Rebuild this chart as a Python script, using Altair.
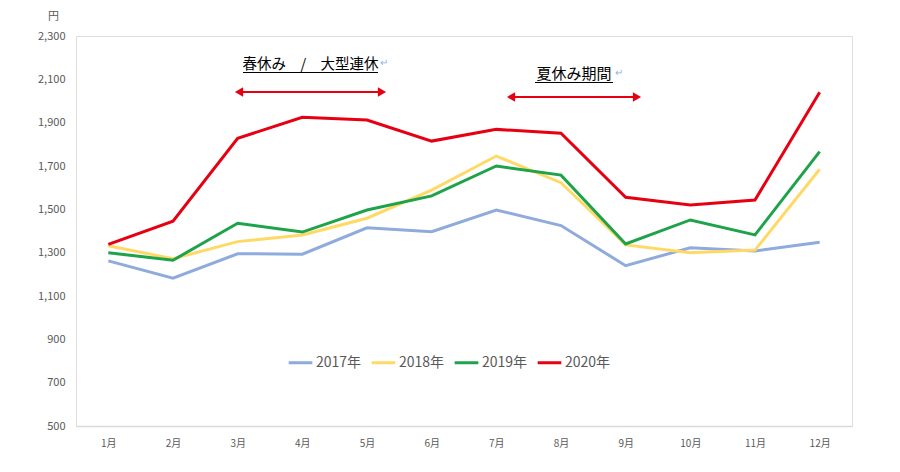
import altair as alt
import pandas as pd

months = ["1月", "2月", "3月", "4月", "5月", "6月", "7月", "8月", "9月", "10月", "11月", "12月"]
years = ["2017年", "2018年", "2019年", "2020年"]
colors = ["#8FAADC", "#FFD966", "#1FA34A", "#E60012"]

v2017 = [1262, 1182, 1295, 1293, 1415, 1397, 1497, 1425, 1240, 1323, 1308, 1348]
v2018 = [1332, 1272, 1351, 1382, 1459, 1589, 1746, 1623, 1336, 1300, 1312, 1685]
v2019 = [1300, 1265, 1436, 1395, 1497, 1562, 1700, 1658, 1340, 1451, 1382, 1766]
v2020 = [1338, 1445, 1828, 1925, 1912, 1815, 1869, 1851, 1556, 1520, 1543, 2040]

y_ticks = [500, 700, 900, 1100, 1300, 1500, 1700, 1900, 2100, 2300]

label_spring = "春休み　/　大型連休"
label_summer = "夏休み期間"
unit_label = "円"

rows = []
for yr, vals in zip(years, [v2017, v2018, v2019, v2020]):
    for m, v in zip(months, vals):
        rows.append({"month": m, "year": yr, "value": v})
df = pd.DataFrame(rows)

FONT = "Noto Sans CJK JP"
GRAY = "#595959"
RED = "#E60012"

lines = alt.Chart(df).mark_line(strokeWidth=3).encode(
    x=alt.X("month:N", sort=months, title=None,
            axis=alt.Axis(labelAngle=0, ticks=False, domain=True, domainColor="#D9D9D9",
                          domainWidth=1.5, labelColor=GRAY, labelFontSize=10, labelFont=FONT,
                          labelPadding=12, grid=False)),
    y=alt.Y("value:Q", title=unit_label,
            scale=alt.Scale(domain=[500, 2300], nice=False, zero=False),
            axis=alt.Axis(values=y_ticks, format=",.0f", ticks=False, domain=False, grid=False,
                          labelColor=GRAY, labelFontSize=11, labelFont=FONT, labelPadding=11,
                          titleAngle=0, titleX=-23, titleY=-17, titleAlign="center",
                          titleBaseline="alphabetic", titleFont=FONT, titleFontSize=11,
                          titleFontWeight="normal", titleColor=GRAY)),
    color=alt.Color("year:N", scale=alt.Scale(domain=years, range=colors),
                    legend=alt.Legend(orient="none", legendX=211, legendY=313, direction="horizontal",
                                      title=None, symbolType="stroke", symbolSize=560,
                                      symbolStrokeWidth=3, labelFontSize=14, labelColor=GRAY,
                                      labelFont=FONT, columnPadding=3, labelOffset=2)),
    order=alt.Order("year:N"),
)

one = pd.DataFrame({"t": [""]})

def text(label, x, y, size=15, color="#000000", align="center"):
    return alt.Chart(pd.DataFrame({"t": [label]})).mark_text(
        font=FONT, fontSize=size, color=color, align=align, baseline="alphabetic"
    ).encode(x=alt.value(x), y=alt.value(y), text="t:N")

def rule(x1, x2, y, color="#000000", w=1.2):
    return alt.Chart(one).mark_rule(color=color, strokeWidth=w).encode(
        x=alt.value(x1), x2=alt.value(x2), y=alt.value(y))

def head(x, y, shape):
    return alt.Chart(one).mark_point(shape=shape, filled=True, size=90, color=RED, opacity=1).encode(
        x=alt.value(x), y=alt.value(y))

ann = [
    text(label_spring, 234.5, 33, size=14.5),
    rule(167, 302, 36.5),
    text("↵", 304, 30, size=10, color="#8FB3E0", align="left"),
    rule(163, 306, 56, color=RED, w=2),
    head(163, 56, "triangle-left"),
    head(306, 56, "triangle-right"),
    text(label_summer, 498, 43),
    rule(459, 537, 46.5),
    text("↵", 539, 40, size=10, color="#8FB3E0", align="left"),
    rule(435, 561, 61, color=RED, w=2),
    head(435, 61, "triangle-left"),
    head(561, 61, "triangle-right"),
]

chart = alt.layer(lines, *ann).properties(
    width=776, height=390,
    autosize=alt.AutoSizeParams(type="none"),
    padding={"left": 68, "top": 28, "right": 40, "bottom": 40},
).configure_view(stroke="#A3B6D0", strokeWidth=1.5).configure(background="white")

chart.save("out.html", embed_options={"renderer": "svg", "actions": False})
